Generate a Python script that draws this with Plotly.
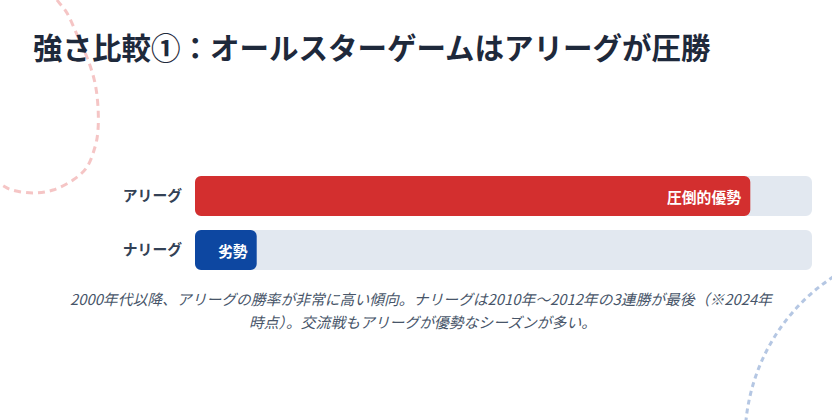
import plotly.graph_objects as go

# ---- data ----
categories = ["アリーグ", "ナリーグ"]
values = [90, 10]
track_values = [100, 100]
bar_labels = ["圧倒的優勢", "劣勢"]
bar_colors = ["#d32f2f", "#0d47a1"]
title_text = "強さ比較①：オールスターゲームはアリーグが圧勝"
caption_lines = [
    "2000年代以降、アリーグの勝率が非常に高い傾向。ナリーグは2010年～2012年の3連勝が最後（※2024年",
    "時点）。交流戦もアリーグが優勢なシーズンが多い。",
]

FONT = "Noto Sans CJK JP, Noto Sans, sans-serif"
W, H = 832, 420
ML, MR, MT, MB = 195, 20, 169, 143
PW, PH = W - ML - MR, H - MT - MB


def px2paper(px, py):
    return (px - ML) / PW, (H - MB - py) / PH


fig = go.Figure()
# explicit base -> plotly rounds both ends of the bar
fig.add_trace(go.Bar(
    y=categories, x=track_values, base=[0] * len(categories), orientation="h",
    marker=dict(color="#e2e8f0", cornerradius=6, line=dict(width=0)),
    hoverinfo="skip", showlegend=False,
))
fig.add_trace(go.Bar(
    y=categories, x=values, base=[0] * len(categories), orientation="h",
    marker=dict(color=bar_colors, cornerradius=6, line=dict(width=0)),
    hoverinfo="skip", showlegend=False,
))

# in-bar labels
for cat, v, lab in zip(categories, values, bar_labels):
    fig.add_annotation(x=v, y=cat, xref="x", yref="y", text=lab,
                       xanchor="right", yanchor="middle", xshift=-7,
                       showarrow=False,
                       font=dict(family=FONT, size=14.8, color="white", weight="bold"))

# caption
for i, (line, py) in enumerate(zip(caption_lines, [298, 321])):
    xp, yp = px2paper(422, py)
    fig.add_annotation(x=xp, y=yp, xref="paper", yref="paper", text=f"<i>{line}</i>",
                       xanchor="center", yanchor="middle", showarrow=False,
                       font=dict(family=FONT, size=14.8, color="#475569"))

# decorative pink blob (catmull-rom through traced points)
pink_pts = [(40, -25), (57, 0), (67, 13), (78, 37), (88, 60), (95, 83), (98, 107),
            (98, 130), (95, 147), (87, 167), (73, 180), (53, 190), (33, 193),
            (12, 190), (0, 184), (-20, 175)]
pp = [px2paper(x, y) for x, y in pink_pts]
path = f"M {pp[1][0]},{pp[1][1]}"
for i in range(1, len(pp) - 2):
    p0, p1, p2, p3 = pp[i - 1], pp[i], pp[i + 1], pp[i + 2]
    c1 = (p1[0] + (p2[0] - p0[0]) / 6, p1[1] + (p2[1] - p0[1]) / 6)
    c2 = (p2[0] - (p3[0] - p1[0]) / 6, p2[1] - (p3[1] - p1[1]) / 6)
    path += f" C {c1[0]},{c1[1]} {c2[0]},{c2[1]} {p2[0]},{p2[1]}"
fig.add_shape(type="path", path=path, xref="paper", yref="paper", layer="below",
              line=dict(color="rgba(236,150,150,0.55)", width=3, dash="7px,5px"))

# decorative blue circle
cx, cy, r = 940, 440, 195
x0, y0 = px2paper(cx - r, cy + r)
x1, y1 = px2paper(cx + r, cy - r)
fig.add_shape(type="circle", x0=x0, x1=x1, y0=y0, y1=y1, xref="paper", yref="paper",
              layer="below",
              line=dict(color="rgba(150,175,215,0.7)", width=3, dash="5px,4px"))

fig.update_layout(
    width=W, height=H,
    margin=dict(l=ML, r=MR, t=MT, b=MB, pad=0),
    paper_bgcolor="white", plot_bgcolor="white",
    barmode="overlay", bargap=0.26,
    title=dict(text=f"<b>{title_text}</b>", xref="container", yref="container",
               x=33 / W, xanchor="left", y=1 - 49 / H, yanchor="middle",
               font=dict(family=FONT, size=29.5, color="#1e293b")),
    xaxis=dict(range=[0, 100], visible=False, fixedrange=True),
    yaxis=dict(categoryorder="array", categoryarray=categories, autorange="reversed",
               showgrid=False, zeroline=False, showline=False, ticks="",
               ticklabelstandoff=12,
               tickfont=dict(family=FONT, size=14.8, color="#334155", weight="bold"),
               fixedrange=True),
    font=dict(family=FONT),
    hovermode=False,
)

fig.write_html("out.html", config={"displayModeBar": False},
               post_script="document.body.style.margin='0';document.body.style.overflow='hidden';")
